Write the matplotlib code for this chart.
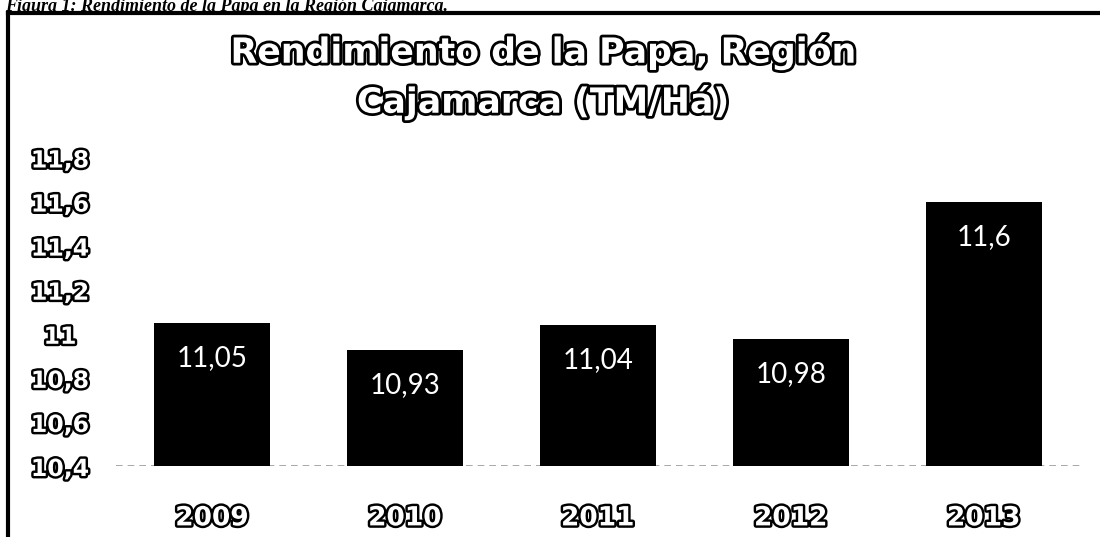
import matplotlib
matplotlib.use("Agg")
import matplotlib.pyplot as plt
import matplotlib.patheffects as pe
from matplotlib.lines import Line2D

# data
years = ["2009", "2010", "2011", "2012", "2013"]
rendimiento = [11.05, 10.93, 11.04, 10.98, 11.6]
value_labels = ["11,05", "10,93", "11,04", "10,98", "11,6"]
y_ticks = [10.4, 10.6, 10.8, 11.0, 11.2, 11.4, 11.6, 11.8]
y_tick_labels = ["10,4", "10,6", "10,8", "11", "11,2", "11,4", "11,6", "11,8"]

outline = [pe.withStroke(linewidth=3.5, foreground="black")]

fig = plt.figure(figsize=(11, 5.37), dpi=100)
ax = fig.add_axes([0.105, 0.1313, 0.877, 0.5745])

x = range(len(years))
ax.bar(x, rendimiento, width=0.6, color="black", zorder=3)
ax.set_xlim(-0.5, len(years) - 0.5)
ax.set_ylim(10.4, 11.8)

# dashed baseline
ax.axhline(10.4, color="#999999", linestyle=(0, (4, 3)), linewidth=1.2, zorder=2)

for s in ax.spines.values():
    s.set_visible(False)

ax.set_xticks(list(x))
ax.set_xticklabels(years)
ax.set_yticks(y_ticks)
ax.set_yticklabels(y_tick_labels)
ax.tick_params(axis="both", length=0)
ax.tick_params(axis="x", pad=28)
ax.tick_params(axis="y", pad=40)

for lab in ax.get_xticklabels():
    lab.set_fontsize(19)
    lab.set_fontweight("bold")
    lab.set_color("white")
    lab.set_path_effects(outline)
for lab in ax.get_yticklabels():
    lab.set_fontsize(17)
    lab.set_fontweight("bold")
    lab.set_color("white")
    lab.set_horizontalalignment("center")
    lab.set_path_effects(outline)

# value labels inside the bars
for xi, v, txt in zip(x, rendimiento, value_labels):
    ax.annotate(txt, (xi, v), xytext=(0, -35), textcoords="offset pixels",
                ha="center", va="center", color="white", fontsize=20,
                family=["Lato", "DejaVu Sans"], zorder=4)

# title in outlined letters
title_fx = [pe.withStroke(linewidth=4, foreground="black")]
fig.text(0.494, 1 - 52 / 537, "Rendimiento de la Papa, Región", ha="center", va="center",
         fontsize=25, fontweight="bold", color="white", path_effects=title_fx)
fig.text(0.494, 1 - 102 / 537, "Cajamarca (TM/Há)", ha="center", va="center",
         fontsize=25, fontweight="bold", color="white", path_effects=title_fx)

# caption above the scanned box
fig.text(0.005, 1 - 11 / 537, "Figura 1: Rendimiento de la Papa en la Región Cajamarca.",
         ha="left", va="baseline", fontsize=13, fontweight="bold", style="italic",
         family="Liberation Serif", color="black")

# frame of the scanned box
fig.add_artist(Line2D([8 / 1100, 8 / 1100], [0, 1 - 13 / 537], transform=fig.transFigure,
                      color="black", linewidth=3))
fig.add_artist(Line2D([8 / 1100, 1], [1 - 13 / 537, 1 - 13 / 537], transform=fig.transFigure,
                      color="black", linewidth=3))

fig.savefig("out.png", dpi=100)
